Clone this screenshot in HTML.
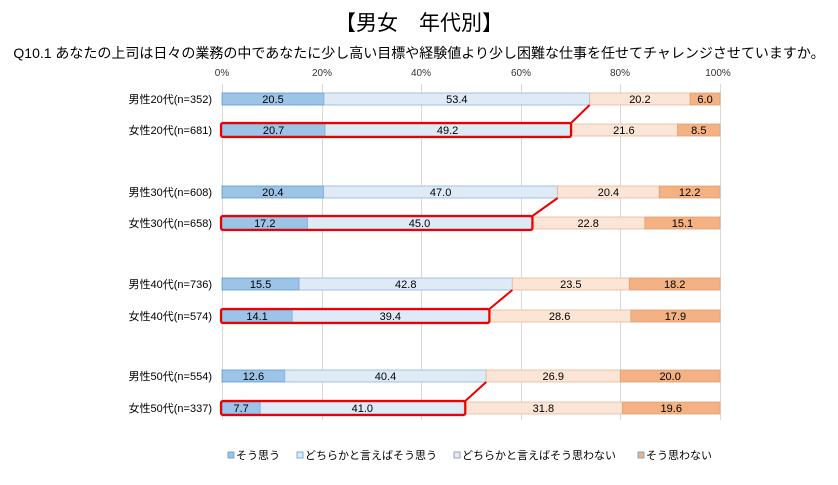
<!DOCTYPE html>
<html><head><meta charset="utf-8"><style>
body{margin:0;background:#fff;}
svg text{font-family:"Liberation Sans","Noto Sans CJK JP",sans-serif;}
</style></head><body>
<svg width="838" height="480" viewBox="0 0 838 480" xmlns="http://www.w3.org/2000/svg">
<text x="419" y="30" font-size="21" text-anchor="middle" fill="#000">【男女　年代別】</text>
<text x="419" y="58" font-size="14" text-anchor="middle" fill="#000">Q10.1 あなたの上司は日々の業務の中であなたに少し高い目標や経験値より少し困難な仕事を任せてチャレンジさせていますか。</text>
<g font-size="10" text-anchor="middle" fill="#333">
<text x="222" y="76">0%</text><text x="322" y="76">20%</text><text x="421" y="76">40%</text><text x="521" y="76">60%</text><text x="620" y="76">80%</text><text x="718" y="76">100%</text>
</g>
<g stroke="#d9d9d9" stroke-width="1">
<line x1="222.5" y1="84" x2="222.5" y2="420"/><line x1="322.5" y1="84" x2="322.5" y2="420"/><line x1="421.5" y1="84" x2="421.5" y2="420"/><line x1="521.5" y1="84" x2="521.5" y2="420"/><line x1="620.5" y1="84" x2="620.5" y2="420"/><line x1="720.5" y1="84" x2="720.5" y2="420"/>
</g>
<g id="bars"></g>
<g id="legend" font-size="11" fill="#000">
<rect x="228" y="452" width="6" height="6" fill="#9dc3e6" stroke="#5b9bd5" stroke-width="0.8"/><text x="236" y="459">そう思う</text>
<rect x="297" y="452" width="6" height="6" fill="#deebf7" stroke="#5b9bd5" stroke-width="0.8"/><text x="305" y="459">どちらかと言えばそう思う</text>
<rect x="454" y="452" width="6" height="6" fill="#fbe5d6" stroke="#5b9bd5" stroke-width="0.8"/><text x="462" y="459">どちらかと言えばそう思わない</text>
<rect x="638" y="452" width="6" height="6" fill="#f4b183" stroke="#5b9bd5" stroke-width="0.8"/><text x="646" y="459">そう思わない</text>
</g>
</svg>
<script>
const rows=[
["男性20代(n=352)",99,[20.5,53.4,20.2,6.0]],
["女性20代(n=681)",130,[20.7,49.2,21.6,8.5]],
["男性30代(n=608)",192,[20.4,47.0,20.4,12.2]],
["女性30代(n=658)",223,[17.2,45.0,22.8,15.1]],
["男性40代(n=736)",284,[15.5,42.8,23.5,18.2]],
["女性40代(n=574)",316,[14.1,39.4,28.6,17.9]],
["男性50代(n=554)",376,[12.6,40.4,26.9,20.0]],
["女性50代(n=337)",408,[7.7,41.0,31.8,19.6]]];
const fills=["#9dc3e6","#deebf7","#fbe5d6","#f4b183"];
const strokes=["#5b9bd5","#8fb4de","#e8b898","#e0a070"];
const X0=222,W=4.98,H=12;let s='';
rows.forEach((r,i)=>{const [lab,cy,v]=r;const tot=v.reduce((a,b)=>a+b);let x=X0;
s+=`<text x="212" y="${cy+4}" font-size="11" text-anchor="end" fill="#000">${lab}</text>`;
v.forEach((d,j)=>{const w=d/tot*100*W;
s+=`<rect x="${x}" y="${cy-H/2}" width="${w}" height="${H}" fill="${fills[j]}" stroke="${strokes[j]}" stroke-width="0.8"/>`;
s+=`<text x="${x+w/2}" y="${cy+4}" font-size="11" text-anchor="middle" fill="#000">${d.toFixed(1)}</text>`;x+=w;});
if(i%2==1){const e=X0+(v[0]+v[1])/tot*100*W;const pv=rows[i-1][2];const pt=pv.reduce((a,b)=>a+b);const pe=X0+(pv[0]+pv[1])/pt*100*W;
s+=`<rect x="${X0-1}" y="${cy-7}" width="${e-X0+2}" height="14" rx="2" fill="none" stroke="#e00" stroke-width="2.2"/>`;
s+=`<line x1="${e+1}" y1="${cy-7}" x2="${pe}" y2="${rows[i-1][1]+6}" stroke="#e00" stroke-width="2"/>`;}
});
document.getElementById('bars').innerHTML=s;
</script>
</body></html>
